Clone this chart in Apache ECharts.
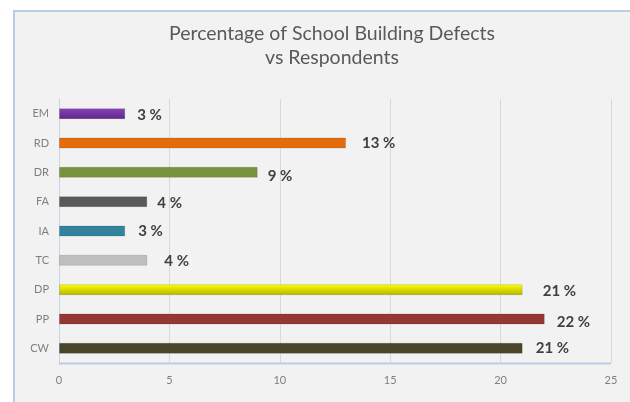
<!DOCTYPE html>
<html>
<head>
<meta charset="utf-8">
<script src="https://cdn.jsdelivr.net/npm/echarts@6/dist/echarts.min.js"></script>
<style>
  html, body { margin: 0; padding: 0; background: #ffffff; }
  #chart { width: 630px; height: 402px; }
</style>
</head>
<body>
<div id="chart"></div>
<script>
// ---- data ----
const titleLines = ['Percentage of School Building Defects', 'vs Respondents'];
const categories = ['EM', 'RD', 'DR', 'FA', 'IA', 'TC', 'DP', 'PP', 'CW'];
const values = [3, 13, 9, 4, 3, 4, 21, 22, 21];
const xTicks = { min: 0, max: 25, interval: 5 };

// ---- styles (kept apart from data) ----
const barColors = [
  ['#8a45bd', '#5e2488'],
  ['#e46c0a', '#e46c0a'],
  ['#77933c', '#77933c'],
  ['#595959', '#595959'],
  ['#31849b', '#31849b'],
  ['#bfbfbf', '#bfbfbf'],
  ['#ffff00', '#b5b500'],
  ['#953735', '#953735'],
  ['#4a452a', '#4a452a']
];
const labelOffsets = [
  [7, 1], [11, 0], [5, 4], [5, 1], [8, 0], [12, 1], [15, 1], [7, 3], [8, 0]
];

const chart = echarts.init(document.getElementById('chart'), null, { renderer: 'canvas' });

const seriesData = values.map((v, i) => ({
  value: v,
  itemStyle: {
    color: new echarts.graphic.LinearGradient(0, 0, 0, 1, [
      { offset: 0, color: barColors[i][0] },
      { offset: 1, color: barColors[i][1] }
    ]),
    borderColor: 'rgba(0,0,0,0.12)',
    borderWidth: 1
  },
  label: { offset: labelOffsets[i] }
}));

const option = {
  backgroundColor: '#ffffff',
  animation: false,
  graphic: [
    { type: 'rect', left: 13, top: 10, shape: { width: 617, height: 392 },
      style: { fill: '#f2f2f2' }, z: -10 },
    { type: 'line', shape: { x1: 13, y1: 11, x2: 630, y2: 11 },
      style: { stroke: '#b9cde5', lineWidth: 2 }, z: -9 },
    { type: 'line', shape: { x1: 14, y1: 10, x2: 14, y2: 402 },
      style: { stroke: '#b9cde5', lineWidth: 2 }, z: -9 },
    { type: 'line', shape: { x1: 59, y1: 363.5, x2: 611, y2: 363.5 },
      style: { stroke: '#b9cde5', lineWidth: 2 }, z: 5 }
  ],
  title: {
    text: titleLines.join('\n'),
    left: 327,
    textAlign: 'center',
    top: 17,
    textStyle: {
      fontFamily: 'Lato, "Open Sans", sans-serif',
      fontSize: 19.5,
      fontWeight: 'normal',
      color: '#595959',
      lineHeight: 24
    }
  },
  grid: { left: 59, right: 19, top: 99, bottom: 39, containLabel: false },
  xAxis: {
    type: 'value',
    min: xTicks.min,
    max: xTicks.max,
    interval: xTicks.interval,
    axisLine: { show: false },
    axisTick: { show: false },
    splitLine: { show: true, lineStyle: { color: '#d9d9d9', width: 1 } },
    axisLabel: {
      color: '#7f7f7f',
      fontSize: 11,
      fontFamily: 'Lato, "Open Sans", sans-serif',
      margin: 12
    }
  },
  yAxis: {
    type: 'category',
    data: categories,
    inverse: true,
    axisLine: { show: true, lineStyle: { color: '#c6d4e6', width: 1 } },
    axisTick: { show: false },
    splitLine: { show: false },
    axisLabel: {
      color: '#7f7f7f',
      fontSize: 11,
      fontFamily: 'Lato, "Open Sans", sans-serif',
      margin: 10
    }
  },
  series: [{
    type: 'bar',
    data: seriesData,
    barWidth: 11,
    label: {
      show: true,
      position: 'right',
      distance: 5,
      formatter: '{c} %',
      color: '#404040',
      fontSize: 15,
      fontWeight: 'bold',
      fontFamily: 'Lato, "Open Sans", sans-serif'
    }
  }]
};

chart.setOption(option);
</script>
</body>
</html>
